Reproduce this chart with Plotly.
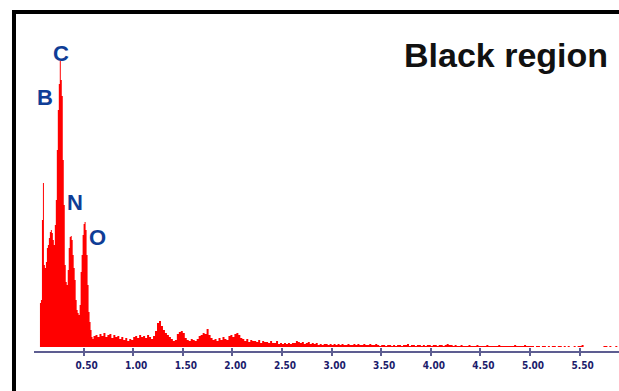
import numpy as np
import plotly.graph_objects as go

# ---------------- data ----------------
# main-peak region, 0.01 keV channels (0.06 .. 0.60 keV)
peak_energy = np.round(np.arange(0.06, 0.605, 0.01), 2)
peak_counts = [44, 47, 127, 164, 82, 79, 85, 99, 102, 109,
               115, 117, 114, 107, 102, 122, 147, 197, 237, 263,
               286, 267, 251, 187, 142, 82, 65, 62, 77, 99,
               110, 111, 107, 92, 79, 67, 47, 37, 34, 32,
               42, 75, 92, 112, 123, 125, 117, 92, 62, 35,
               25, 17, 10, 8, 11]

# background / tail region, 0.02 keV channels (0.62 .. 5.88 keV)
tail_energy = np.round(np.arange(0.62, 5.885, 0.02), 2)
tail_counts = [12, 10, 13, 11, 14, 10, 12, 13, 9, 12, 10, 11, 8, 10, 7, 9, 6, 8, 7, 10,   # 0.62-1.00
               11, 9, 12, 10, 11, 9, 12, 10, 8, 11,      # 1.02-1.20
               16, 24, 26, 21, 17, 14, 12, 10, 8, 6,     # 1.22-1.40
               7, 13, 15, 16, 14, 9, 7, 6, 8, 7,         # 1.42-1.60
               6, 8, 11, 12, 14, 13, 18, 12, 9, 7,       # 1.62-1.80
               8, 6, 9, 7, 10, 8, 7, 11, 12, 10,         # 1.82-2.00
               13, 14, 12, 9, 8, 6, 8, 5, 7, 6,          # 2.02-2.20
               6, 5, 7, 4, 6, 5, 5, 4, 6, 4,             # 2.22-2.40
               4, 6, 3, 4, 3, 4, 3, 4, 3, 4,             # 2.42-2.60
               4, 6, 5, 4, 5, 3, 4, 5, 3, 4,             # 2.62-2.80
               3, 4, 2, 3, 2, 3, 3, 2, 3, 2,             # 2.82-3.00
               3, 2, 3, 2, 3, 2, 2, 3, 2, 2,             # 3.02-3.20
               3, 2, 3, 2, 2, 3, 2, 2, 3, 2,             # 3.22-3.40
               2, 3, 2, 1, 2, 2, 1, 2, 2, 1,             # 3.42-3.60
               2, 1, 2, 2, 1, 2, 2, 3, 1, 2,             # 3.62-3.80
               2, 1, 2, 2, 1, 2, 1, 2, 2, 1,             # 3.82-4.00
               2, 2, 1, 2, 2, 1, 2, 3, 2, 2,             # 4.02-4.20
               1, 2, 1, 1, 2, 1, 1, 1, 2, 1,             # 4.22-4.40
               1, 1, 2, 1, 1, 1, 1, 2, 1, 1,             # 4.42-4.60
               1, 1, 1, 2, 1, 1, 1, 1, 1, 1,             # 4.62-4.80
               1, 2, 1, 1, 1, 1, 2, 1, 1, 1,             # 4.82-5.00
               1, 0, 1, 1, 0, 1, 1, 0, 1, 0,             # 5.02-5.20
               1, 1, 0, 1, 1, 0, 1, 0, 1, 0,             # 5.22-5.40
               0, 1, 0, 1, 1, 2, 0, 0, 0, 0,             # 5.42-5.60
               0, 0, 0, 0, 0, 0, 1, 1, 0, 1, 0, 0, 1, 0]  # 5.62-5.88

assert len(peak_energy) == len(peak_counts)
assert len(tail_energy) == len(tail_counts)

energy = list(peak_energy) + list(tail_energy)
counts = peak_counts + tail_counts

# element labels
element_names = ["B", "C", "N", "O"]
element_energy = [0.106, 0.277, 0.418, 0.64]
element_counts = [250, 294, 145, 110]

tick_values = [0.5, 1.0, 1.5, 2.0, 2.5, 3.0, 3.5, 4.0, 4.5, 5.0, 5.5]
tick_labels = ["0.50", "1.00", "1.50", "2.00", "2.50", "3.00",
               "3.50", "4.00", "4.50", "5.00", "5.50"]

title_text = "Black region"

# ---------------- figure ----------------
RED = "#ff0000"
AXIS = "#5d5d91"
TICKTXT = "#1b1b6b"
LABEL = "#0f3d96"

fig = go.Figure()
fig.add_trace(go.Scatter(
    x=energy, y=counts, mode="lines", line=dict(width=0, shape="hv", color=RED),
    fill="tozeroy", fillcolor=RED, hoverinfo="skip", showlegend=False))
# invisible helper trace for the inside-tick overlay axis
fig.add_trace(go.Scatter(
    x=energy, y=counts, mode="lines", line=dict(width=0), opacity=0,
    xaxis="x2", hoverinfo="skip", showlegend=False))

for name, ex, cy in zip(element_names, element_energy, element_counts):
    fig.add_annotation(x=ex, y=cy, xref="x", yref="y", text=name, showarrow=False,
                       font=dict(family="Liberation Sans, Arial, sans-serif",
                                 size=22, color=LABEL, weight="bold"),
                       xanchor="center", yanchor="middle")

fig.add_annotation(x=0.9846, y=0.878, xref="paper", yref="paper", text=title_text,
                   showarrow=False, xanchor="right", yanchor="middle",
                   font=dict(family="Liberation Sans, Arial, sans-serif",
                             size=34, color="#111111", weight="bold"))

# outer black frame (extends beyond the visible window)
fig.add_shape(type="rect", xref="paper", yref="paper",
              x0=-0.0342, x1=1.05, y0=-0.3, y1=1.006,
              line=dict(color="black", width=4), fillcolor="rgba(0,0,0,0)",
              layer="above")

tickfont = dict(family="Liberation Sans Narrow, DejaVu Sans Condensed, Arial Narrow, sans-serif",
                size=10, color=TICKTXT, weight="bold")

fig.update_layout(
    width=619, height=391,
    margin=dict(l=34, r=0, t=14, b=40),
    paper_bgcolor="white", plot_bgcolor="white",
    xaxis=dict(range=[0, 5.897], tickvals=tick_values, ticktext=tick_labels,
               ticks="outside", ticklen=3, tickwidth=1.5, tickcolor=AXIS,
               showline=True, linecolor=AXIS, linewidth=2,
               showgrid=False, zeroline=False, tickfont=tickfont,
               ticklabelshift=3, ticklabelstandoff=1),
    xaxis2=dict(overlaying="x", matches="x", anchor="y", side="bottom",
                range=[0, 5.897], tickvals=tick_values, ticks="inside",
                ticklen=3, tickwidth=1.5, tickcolor=AXIS,
                showticklabels=False, showline=False, showgrid=False,
                zeroline=False),
    yaxis=dict(range=[-4, 333], visible=False, showgrid=False, zeroline=False),
)

fig.write_html("out.html", config={"displayModeBar": False},
               post_script="document.body.style.margin='0';document.body.style.overflow='hidden';")
